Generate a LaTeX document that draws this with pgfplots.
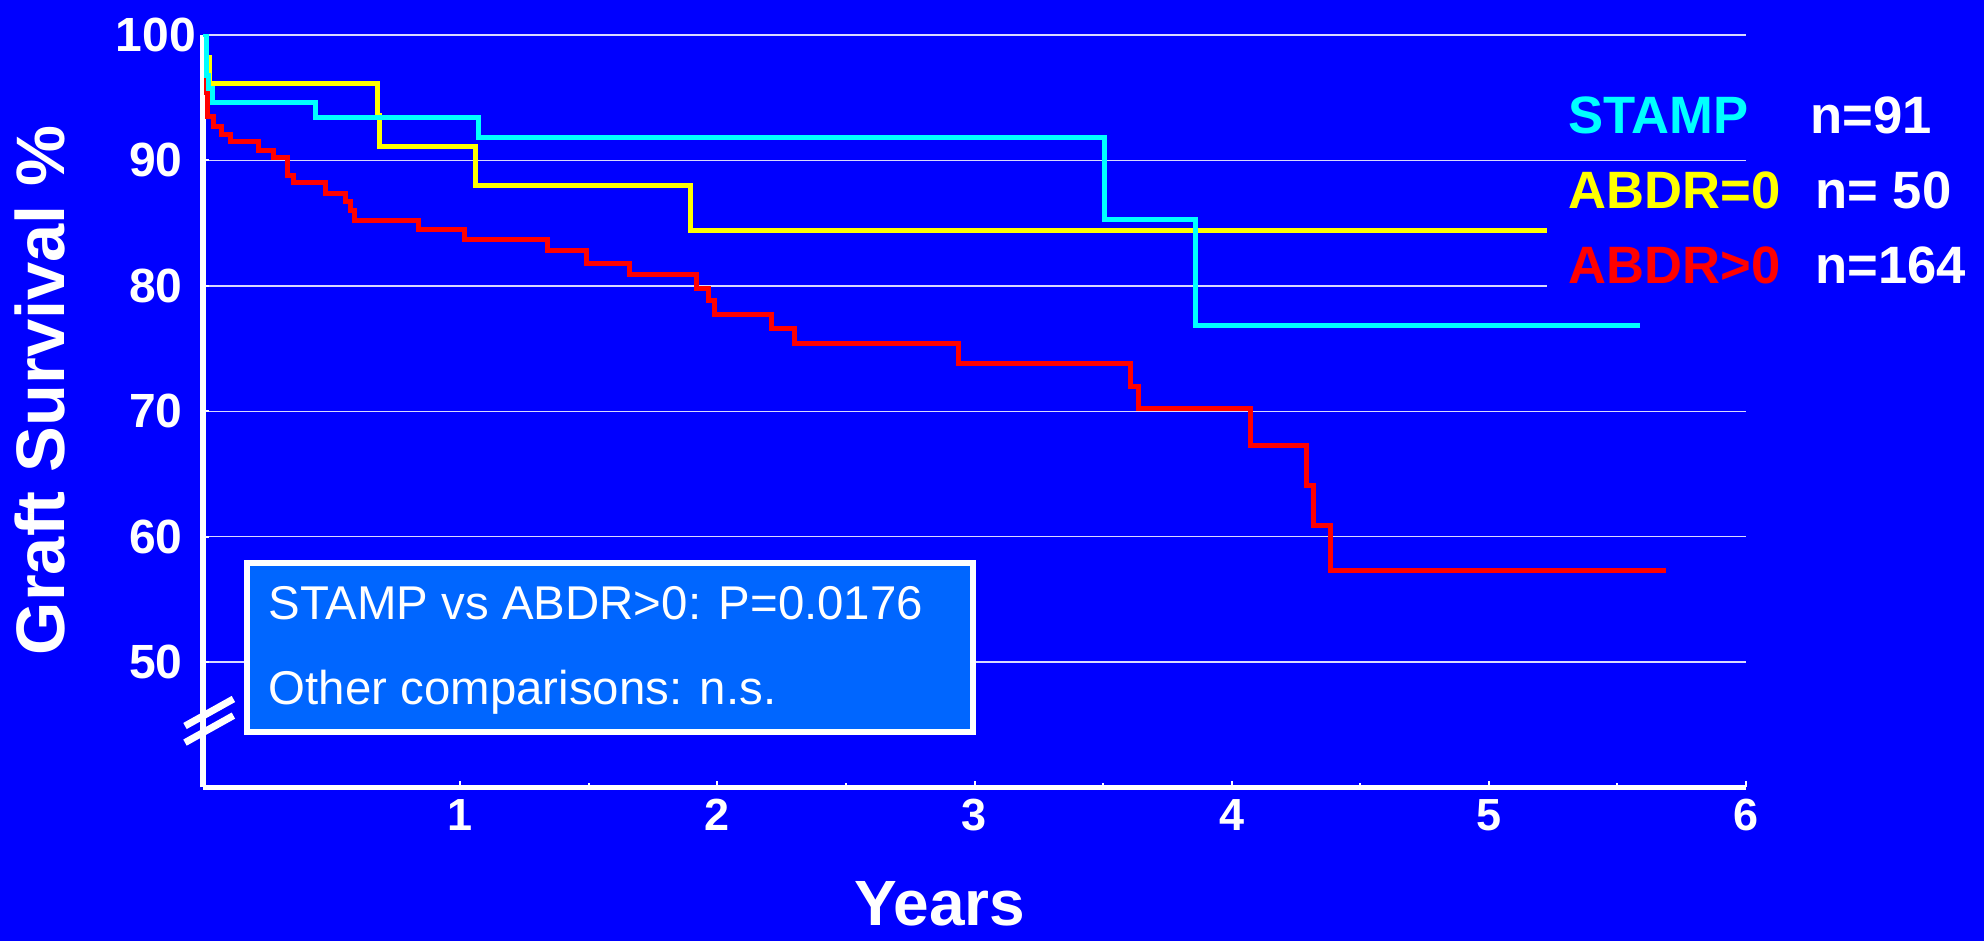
\documentclass[border=0pt]{standalone}
\usepackage{fontspec}
\setmainfont{Liberation Sans}
\usepackage{pgfplots}
\pgfplotsset{compat=1.18}
\definecolor{bg}{HTML}{0000FF}
\definecolor{boxblue}{HTML}{0066FF}
\definecolor{stamp}{HTML}{00FFFF}
\definecolor{abdrzero}{HTML}{FFFF00}
\definecolor{abdrpos}{HTML}{FF0000}

\begin{document}
\begin{tikzpicture}
\useasboundingbox (0,0) rectangle (992pt,470.5pt);
\fill[bg] (0,0) rectangle (992pt,470.5pt);
\begin{axis}[%
	at={(101.5pt,76.75pt)}, anchor=south west,
	width=771.5pt, height=376.25pt, scale only axis,
	xmin=0, xmax=6, ymin=40, ymax=100,
	axis x line=bottom, axis y line=left,
	axis line style={white, line width=2.6pt, -},
	xtick={1,2,3,4,5,6}, ytick={50,60,70,80,90,100},
	minor x tick num=1,
	tick align=inside, major tick length=3pt, minor tick length=2pt,
	tick style={white, line width=1pt},
	ymajorgrids, grid style={white!85!blue, line width=0.7pt},
	/pgf/number format/assume math mode=true,
	xticklabel style={text=white, font=\bfseries\fontsize{22.5}{22.5}\selectfont, yshift=-2.5pt},
	yticklabel style={text=white, font=\bfseries\fontsize{24}{24}\selectfont, anchor=center, xshift=-23.5pt},
	xlabel={Years},
	xlabel style={at={(axis description cs:0.4776,-0.1547)}, anchor=center, inner sep=0pt, text=white,
		font=\bfseries\fontsize{32}{32}\selectfont},
	ylabel={Graft Survival \%},
	ylabel style={at={(axis description cs:-0.1056,0.528)}, anchor=center, text=white,
		font=\bfseries\fontsize{34.3}{34.3}\selectfont},
	]
	% ABDR>0
	\addplot[const plot, abdrpos, line width=2.5pt] coordinates {
		(0,100) (0.012,95.4) (0.017,93.5) (0.042,92.7) (0.072,92.1) (0.105,91.5)
		(0.217,90.8) (0.276,90.2) (0.327,88.8) (0.351,88.2) (0.476,87.4)
		(0.554,86.7) (0.574,86.0) (0.589,85.2) (0.839,84.5) (1.017,83.7)
		(1.340,82.8) (1.491,81.8) (1.658,80.9) (1.920,79.8) (1.965,78.8)
		(1.988,77.7) (2.212,76.6) (2.299,75.4) (2.936,73.8) (3.607,72.0)
		(3.637,70.2) (4.075,67.3) (4.292,64.1) (4.319,60.9) (4.384,57.3)
		(5.690,57.3)
	};
	% ABDR=0
	\addplot[const plot, abdrzero, line width=2.5pt] coordinates {
		(0.017,98.2) (0.026,96.1) (0.677,93.6) (0.688,91.1) (1.059,88.0)
		(1.895,84.4) (5.226,84.4)
	};
	% STAMP
	\addplot[const plot, stamp, line width=2.5pt] coordinates {
		(0,100) (0.015,96.8) (0.023,95.7) (0.036,94.6) (0.438,93.4)
		(1.072,91.8) (3.504,85.3) (3.860,76.8) (5.586,76.8)
	};
\end{axis}
% legend
\fill[bg] (773.5pt,324pt) rectangle (880pt,331pt);
\begin{scope}[every node/.style={anchor=base west, inner sep=0pt, font=\bfseries\fontsize{26.3}{26.3}\selectfont}]
	\node[text=stamp] at (784pt,403.9pt) {STAMP};
	\node[text=white] at (905pt,403.9pt) {n=91};
	\node[text=abdrzero] at (784pt,366.3pt) {ABDR=0};
	\node[text=white] at (907.5pt,366.3pt) {n= 50};
	\node[text=abdrpos] at (784pt,328.9pt) {ABDR>0};
	\node[text=white] at (907.5pt,328.9pt) {n=164};
\end{scope}
% p-value box
\draw[white, line width=3pt, fill=boxblue] (123.6pt,104.4pt) rectangle (486.4pt,189.1pt);
\node[anchor=base west, inner sep=0pt, text=white, font=\fontsize{23.7}{23.7}\selectfont]
	at (134.2pt,160.5pt) {STAMP vs ABDR>0: P=0.0176};
\node[anchor=base west, inner sep=0pt, text=white, font=\fontsize{23.7}{23.7}\selectfont]
	at (134.2pt,118pt) {Other comparisons: n.s.};
% axis break
\draw[white, line width=3.5pt] (92.5pt,107.5pt) -- (116.7pt,121pt);
\draw[white, line width=3.5pt] (92.5pt,99.2pt) -- (116.7pt,112.7pt);
\end{tikzpicture}
\end{document}
